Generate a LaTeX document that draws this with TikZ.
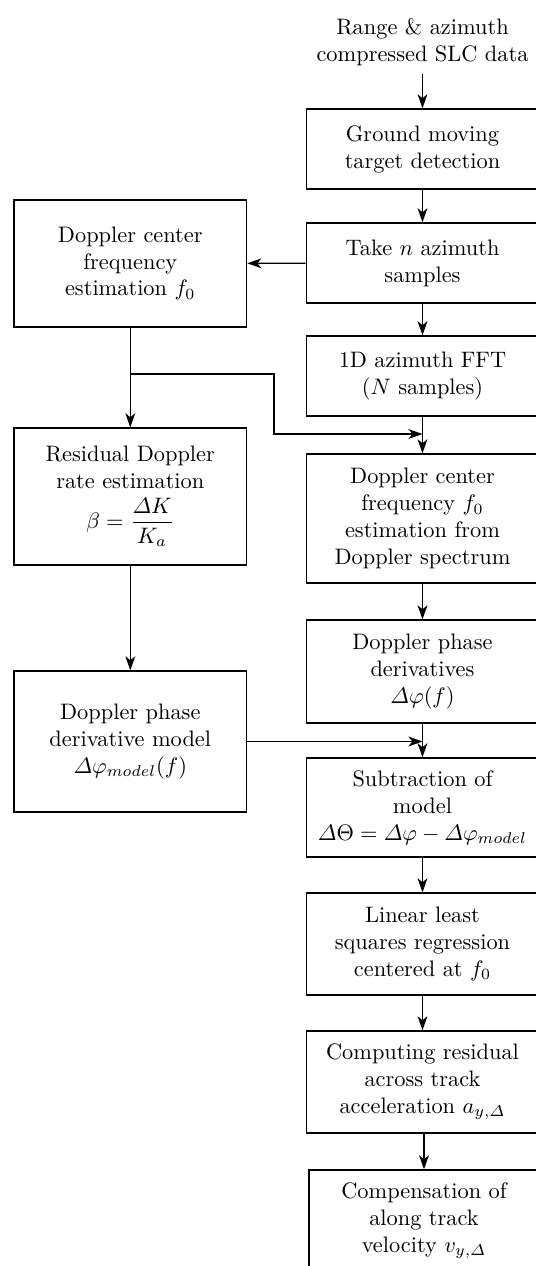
\documentclass[tikz,border=0pt]{standalone}
\usepackage{amsmath}
\usetikzlibrary{arrows.meta}

\begin{document}
\begin{tikzpicture}[x=0.447pt,y=-0.447pt,
  block/.style={draw,line width=0.6pt,align=center,minimum width=104pt,inner sep=2pt},
  flow/.style={line width=0.6pt,-{Stealth[length=6.3pt,width=4.4pt,inset=1.8pt]}}]
\useasboundingbox (0,0) rectangle (536,1266);
% right column
\node[align=center] (data) at (422.5,42) {Range \& azimuth\\compressed SLC data};
\node[block,minimum height=35.8pt] (gmt) at (422.5,149) {Ground moving\\target detection};
\node[block,minimum height=35.8pt] (take) at (422.5,263) {Take $n$ azimuth\\samples};
\node[block,minimum height=35.8pt] (fft) at (422.5,376) {1D azimuth FFT\\($N$ samples)};
\node[block,minimum height=57.7pt] (dce) at (422.5,518.5) {Doppler center\\frequency $f_0$\\estimation from\\Doppler spectrum};
\node[block,minimum height=46pt] (dpd) at (422.5,671.5) {Doppler phase\\derivatives\\$\varDelta\varphi(f)$};
\node[block,minimum height=44.3pt] (sub) at (422.5,807.5) {Subtraction of\\model\\$\varDelta\Theta=\varDelta\varphi-\varDelta\varphi_{model}$};
\node[block,minimum height=45.6pt] (lls) at (422.5,944) {Linear least\\squares regression\\centered at $f_0$};
\node[block,minimum height=45.6pt] (acc) at (422.5,1082) {Computing residual\\across track\\acceleration $a_{y,\varDelta}$};
\node[block,minimum height=45.6pt,minimum width=102.8pt] (comp) at (424,1221) {Compensation of\\along track\\velocity $v_{y,\varDelta}$};
% left column
\node[block,minimum height=56.8pt] (fest) at (130.3,263.5) {Doppler center\\frequency\\estimation $f_0$};
\node[block,minimum height=61.2pt] (rate) at (130.3,496.5) {Residual Doppler\\rate estimation\\[3pt]$\beta=\dfrac{\varDelta K}{K_a}$};
\node[block,minimum height=63pt] (model) at (130.3,741.5) {Doppler phase\\derivative model\\$\varDelta\varphi_{model}(f)$};
\coordinate (split) at (130.3,374);
\coordinate (bend) at (274,434);
\coordinate (join1) at (422.5,434);
\coordinate (join2) at (422.5,741.5);

\draw[flow] (data) -- (gmt);
\draw[flow] (gmt) -- (take);
\draw[flow] (take) -- (fft);
\draw[flow] (fft) -- (dce);
\draw[flow] (dce) -- (dpd);
\draw[flow] (dpd) -- (sub);
\draw[flow] (sub) -- (lls);
\draw[flow] (lls) -- (acc);
\draw[flow] (acc.south -| comp.north) -- (comp.north);
\draw[flow] (take) -- (fest);
\draw[flow] (fest) -- (rate);
\draw[flow] (split) -| (bend) -- (join1);
\draw[flow] (rate) -- (model);
\draw[flow] (model) -- (join2);
\end{tikzpicture}
\end{document}
